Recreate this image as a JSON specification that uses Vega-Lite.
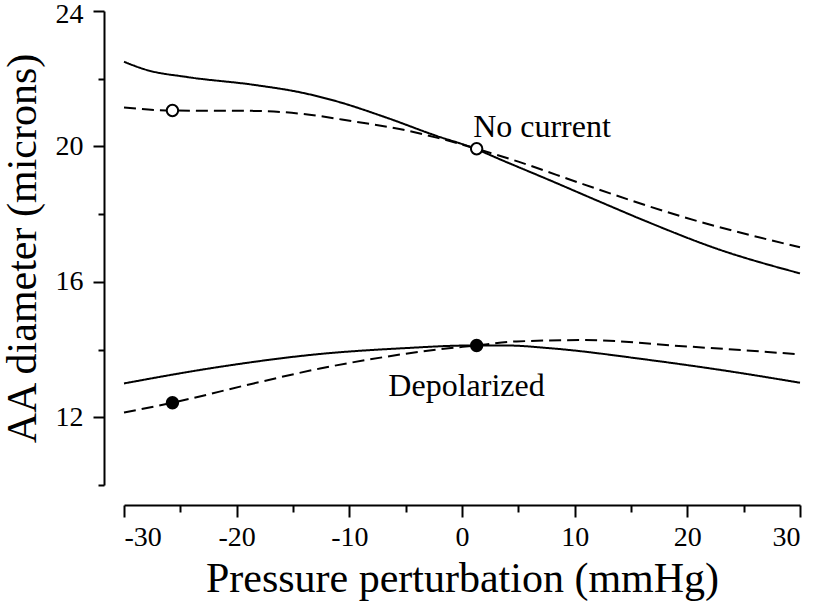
{
  "$schema": "https://vega.github.io/schema/vega-lite/v6.json",
  "autosize": {"type": "none"},
  "width": 676,
  "height": 474,
  "padding": {"left": 124, "top": 11, "right": 17, "bottom": 118},
  "background": "white",
  "config": {
    "view": {"stroke": null},
    "axis": {
      "grid": false,
      "domainColor": "black",
      "domainWidth": 2,
      "tickColor": "black",
      "tickWidth": 2,
      "labelFont": "Liberation Serif",
      "labelFontSize": 28,
      "labelColor": "black",
      "titleFont": "Liberation Serif",
      "titleFontSize": 42,
      "titleFontWeight": "normal",
      "titleColor": "black"
    }
  },
  "datasets": {
    "lines": [
      {"series": "nc_solid", "dash": "solid", "x": -30, "y": 22.5},
      {"series": "nc_solid", "dash": "solid", "x": -28, "y": 22.26},
      {"series": "nc_solid", "dash": "solid", "x": -24.4, "y": 22.05},
      {"series": "nc_solid", "dash": "solid", "x": -18.5, "y": 21.82},
      {"series": "nc_solid", "dash": "solid", "x": -14.1, "y": 21.58},
      {"series": "nc_solid", "dash": "solid", "x": -11.1, "y": 21.33},
      {"series": "nc_solid", "dash": "solid", "x": -6.7, "y": 20.85},
      {"series": "nc_solid", "dash": "solid", "x": -2.25, "y": 20.31},
      {"series": "nc_solid", "dash": "solid", "x": 0.7, "y": 19.99},
      {"series": "nc_solid", "dash": "solid", "x": 4.0, "y": 19.53},
      {"series": "nc_solid", "dash": "solid", "x": 7.8, "y": 19.0},
      {"series": "nc_solid", "dash": "solid", "x": 12.0, "y": 18.4},
      {"series": "nc_solid", "dash": "solid", "x": 16.7, "y": 17.74},
      {"series": "nc_solid", "dash": "solid", "x": 22.6, "y": 16.98},
      {"series": "nc_solid", "dash": "solid", "x": 30, "y": 16.25},
      {"series": "nc_dash", "dash": "dashed", "x": -30, "y": 21.15},
      {"series": "nc_dash", "dash": "dashed", "x": -25.7, "y": 21.06},
      {"series": "nc_dash", "dash": "dashed", "x": -18.5, "y": 21.05},
      {"series": "nc_dash", "dash": "dashed", "x": -14.1, "y": 20.96},
      {"series": "nc_dash", "dash": "dashed", "x": -9.65, "y": 20.74},
      {"series": "nc_dash", "dash": "dashed", "x": -5.2, "y": 20.49},
      {"series": "nc_dash", "dash": "dashed", "x": -2.25, "y": 20.26},
      {"series": "nc_dash", "dash": "dashed", "x": 1.3, "y": 19.93},
      {"series": "nc_dash", "dash": "dashed", "x": 5.0, "y": 19.55},
      {"series": "nc_dash", "dash": "dashed", "x": 10.8, "y": 18.88},
      {"series": "nc_dash", "dash": "dashed", "x": 19.6, "y": 17.92},
      {"series": "nc_dash", "dash": "dashed", "x": 30, "y": 17.02},
      {"series": "dp_solid", "dash": "solid", "x": -30, "y": 13.0},
      {"series": "dp_solid", "dash": "solid", "x": -21.5, "y": 13.49},
      {"series": "dp_solid", "dash": "solid", "x": -12.6, "y": 13.87},
      {"series": "dp_solid", "dash": "solid", "x": -5.2, "y": 14.04},
      {"series": "dp_solid", "dash": "solid", "x": 0.7, "y": 14.12},
      {"series": "dp_solid", "dash": "solid", "x": 4, "y": 14.12},
      {"series": "dp_solid", "dash": "solid", "x": 7.8, "y": 14.04},
      {"series": "dp_solid", "dash": "solid", "x": 16.7, "y": 13.69},
      {"series": "dp_solid", "dash": "solid", "x": 24.1, "y": 13.34},
      {"series": "dp_solid", "dash": "solid", "x": 30, "y": 13.02},
      {"series": "dp_dash", "dash": "dashed", "x": -30, "y": 12.14},
      {"series": "dp_dash", "dash": "dashed", "x": -25.7, "y": 12.43},
      {"series": "dp_dash", "dash": "dashed", "x": -18.5, "y": 13.0},
      {"series": "dp_dash", "dash": "dashed", "x": -12.6, "y": 13.44},
      {"series": "dp_dash", "dash": "dashed", "x": -6.7, "y": 13.79},
      {"series": "dp_dash", "dash": "dashed", "x": -2.25, "y": 14.0},
      {"series": "dp_dash", "dash": "dashed", "x": 1.3, "y": 14.12},
      {"series": "dp_dash", "dash": "dashed", "x": 4.85, "y": 14.24},
      {"series": "dp_dash", "dash": "dashed", "x": 10.8, "y": 14.28},
      {"series": "dp_dash", "dash": "dashed", "x": 19.6, "y": 14.1},
      {"series": "dp_dash", "dash": "dashed", "x": 30, "y": 13.86}
    ],
    "points": [
      {"kind": "open", "x": -25.7, "y": 21.06},
      {"kind": "open", "x": 1.3, "y": 19.93},
      {"kind": "closed", "x": -25.7, "y": 12.43},
      {"kind": "closed", "x": 1.3, "y": 14.12}
    ],
    "labels": [
      {"text": "No current", "x": 7.1, "y": 20.57},
      {"text": "Depolarized", "x": 0.4, "y": 12.92}
    ]
  },
  "layer": [
    {
      "data": {"name": "lines"},
      "mark": {"type": "line", "interpolate": "monotone", "color": "black", "strokeWidth": 2},
      "encoding": {
        "x": {
          "field": "x", "type": "quantitative",
          "scale": {"domain": [-30, 30], "nice": false, "zero": false},
          "axis": {
            "title": "Pressure perturbation (mmHg)",
            "offset": 20,
            "values": [-30, -25, -20, -15, -10, -5, 0, 5, 10, 15, 20, 25, 30],
            "tickSize": {"condition": {"test": "datum.value % 10 === 0", "value": 12}, "value": 7},
            "labelExpr": "datum.value % 10 === 0 ? toString(datum.value) : ''",
            "labelPadding": 6,
            "titlePadding": 7
          }
        },
        "y": {
          "field": "y", "type": "quantitative",
          "scale": {"domain": [10, 24], "nice": false, "zero": false},
          "axis": {
            "title": "AA diameter (microns)",
            "offset": 20,
            "values": [10, 12, 14, 16, 18, 20, 22, 24],
            "tickSize": {"condition": {"test": "datum.value % 4 === 0", "value": 11}, "value": 6},
            "labelExpr": "datum.value % 4 === 0 ? toString(datum.value) : ''",
            "labelOffset": {"condition": {"test": "datum.value === 24", "value": 3}, "value": 0},
            "labelPadding": 10,
            "titlePadding": 11
          }
        },
        "detail": {"field": "series"},
        "strokeDash": {
          "field": "dash", "type": "nominal",
          "scale": {"domain": ["solid", "dashed"], "range": [[1, 0], [12, 6]]},
          "legend": null
        }
      }
    },
    {
      "data": {"name": "points"},
      "mark": {"type": "point", "shape": "circle", "size": 130, "stroke": "black", "strokeWidth": 2, "filled": false, "opacity": 1},
      "encoding": {
        "x": {"field": "x", "type": "quantitative"},
        "y": {"field": "y", "type": "quantitative"},
        "fill": {
          "field": "kind", "type": "nominal",
          "scale": {"domain": ["open", "closed"], "range": ["white", "black"]},
          "legend": null
        }
      }
    },
    {
      "data": {"name": "labels"},
      "mark": {"type": "text", "font": "Liberation Serif", "fontSize": 32, "color": "black", "align": "center", "baseline": "middle"},
      "encoding": {
        "x": {"field": "x", "type": "quantitative"},
        "y": {"field": "y", "type": "quantitative"},
        "text": {"field": "text"}
      }
    }
  ]
}
